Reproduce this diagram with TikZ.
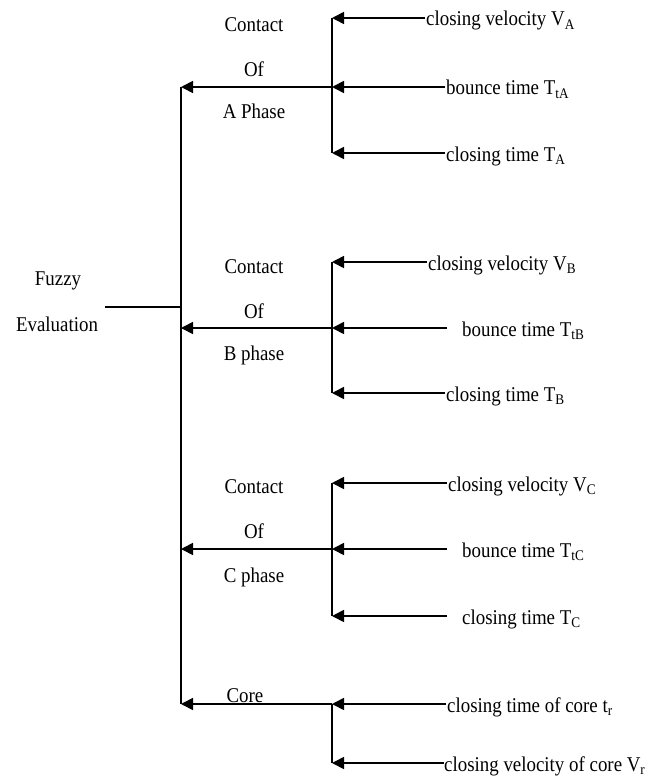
\documentclass[tikz,border=0pt]{standalone}
\usepackage{fontspec}
\setmainfont[FakeStretch=0.9]{Liberation Serif}
\usetikzlibrary{arrows.meta}

\begin{document}
\begin{tikzpicture}[x=1pt,y=-1pt,
  wire/.style={line width=1.7pt},
  feed/.style={wire,-{Triangle[length=12pt,width=12pt]}},
  lbl/.style={font=\fontsize{21}{25}\selectfont,inner sep=0pt,text height=14pt,text depth=4pt},
  leaf/.style={font=\fontsize{21}{25}\selectfont,anchor=west,inner ysep=0pt,inner xsep=1pt,text height=16pt,text depth=0pt},
  leafgap/.style={leaf,inner xsep=15pt}]
\useasboundingbox (0,0) rectangle (651,778);

% root
\node[lbl] (fz1) at (58,280) {Fuzzy};
\node[lbl] (fz2) at (57,326) {Evaluation};
\coordinate (fzend) at (105,307);

% spine
\coordinate (mtop) at (181,87);
\coordinate (mfz) at (181,307);
\coordinate (mB) at (181,328);
\coordinate (mC) at (181,549);
\coordinate (mR) at (181,704);
\draw[wire] (mtop) -- (mR);
\draw[wire] (fzend) -- (mfz);

% ---- contact of A phase
\node[lbl] (ca1) at (254,27) {Contact};
\node[lbl] (ca2) at (254,72) {Of};
\node[lbl] (ca3) at (254,114) {A Phase};
\coordinate (a1) at (332,18);
\coordinate (a2) at (332,87);
\coordinate (a3) at (332,153);
\draw[wire] (a1) -- (a3);
\draw[feed] (a2) -- (mtop);
\node[leaf] (la1) at (425,18) {closing velocity V\textsubscript{A}};
\node[leaf] (la2) at (445,87) {bounce time T\textsubscript{tA}};
\node[leaf] (la3) at (445,153) {closing time T\textsubscript{A}};
\draw[feed] (la1.west) -- (a1);
\draw[feed] (la2.west) -- (a2);
\draw[feed] (la3.west) -- (a3);

% ---- contact of B phase
\node[lbl] (cb1) at (254,268) {Contact};
\node[lbl] (cb2) at (254,313) {Of};
\node[lbl] (cb3) at (254,355) {B phase};
\coordinate (b1) at (332,262);
\coordinate (b2) at (332,328);
\coordinate (b3) at (332,393);
\draw[wire] (b1) -- (b3);
\draw[feed] (b2) -- (mB);
\node[leaf] (lb1) at (427,262) {closing velocity V\textsubscript{B}};
\node[leafgap] (lb2) at (447,328) {bounce time T\textsubscript{tB}};
\node[leaf] (lb3) at (445,393) {closing time T\textsubscript{B}};
\draw[feed] (lb1.west) -- (b1);
\draw[feed] (lb2.west) -- (b2);
\draw[feed] (lb3.west) -- (b3);

% ---- contact of C phase
\node[lbl] (cc1) at (254,488) {Contact};
\node[lbl] (cc2) at (254,533) {Of};
\node[lbl] (cc3) at (254,577) {C phase};
\coordinate (c1) at (332,483);
\coordinate (c2) at (332,549);
\coordinate (c3) at (332,616);
\draw[wire] (c1) -- (c3);
\draw[feed] (c2) -- (mC);
\node[leaf] (lc1) at (447,483) {closing velocity V\textsubscript{C}};
\node[leafgap] (lc2) at (447,549) {bounce time T\textsubscript{tC}};
\node[leafgap] (lc3) at (447,616) {closing time T\textsubscript{C}};
\draw[feed] (lc1.west) -- (c1);
\draw[feed] (lc2.west) -- (c2);
\draw[feed] (lc3.west) -- (c3);

% ---- core
\node[lbl] (core) at (245,697) {Core};
\coordinate (r1) at (332,704);
\coordinate (r2) at (332,763);
\draw[wire] (r1) -- (r2);
\draw[feed] (r1) -- (mR);
\node[leaf] (lr1) at (446,704) {closing time of core t\textsubscript{r}};
\node[leaf,inner xsep=0pt] (lr2) at (444,763) {closing velocity of core V\textsubscript{r}};
\draw[feed] (lr1.west) -- (r1);
\draw[feed] (lr2.west) -- (r2);
\end{tikzpicture}
\end{document}
